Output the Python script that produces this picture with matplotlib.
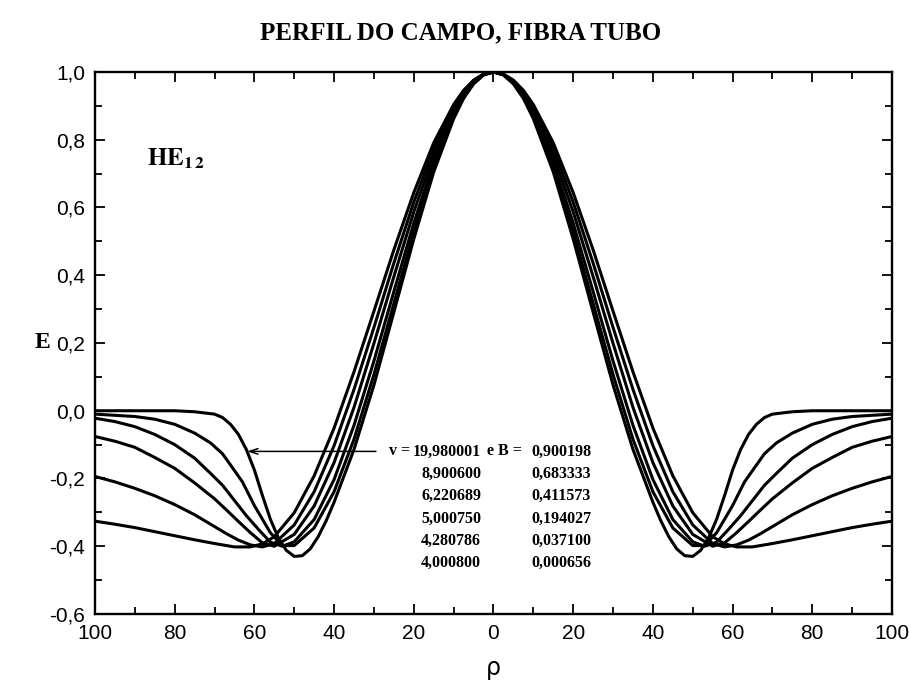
import matplotlib
matplotlib.use("Agg")
import matplotlib.pyplot as plt
import numpy as np

# half profiles (rho >= 0), mirrored for rho < 0
rho_1 = [0, 2.5, 5, 7.5, 10, 15, 20, 25, 30, 35, 40, 42, 44, 46, 48, 50, 52, 54, 56, 58, 60, 62, 64, 66, 68, 70, 75, 80, 90, 100]
E_1 = [1.0, 0.991, 0.965, 0.922, 0.862, 0.705, 0.507, 0.291, 0.076, -0.114, -0.27, -0.325, -0.372, -0.408, -0.428, -0.43, -0.412,
       -0.375, -0.32, -0.25, -0.175, -0.115, -0.07, -0.04, -0.02, -0.01, -0.003, 0.0, 0.0, 0.0]

rho_2 = [0, 2.5, 5, 7.5, 10, 15, 20, 25, 30, 35, 40, 45, 50, 53, 56, 58, 60, 63, 66, 68, 71, 75, 80, 85, 90, 100]
E_2 = [1.0, 0.992, 0.966, 0.925, 0.869, 0.718, 0.528, 0.317, 0.107, -0.084, -0.239, -0.346, -0.398, -0.398, -0.36, -0.32,
       -0.28, -0.21, -0.16, -0.127, -0.095, -0.066, -0.04, -0.025, -0.017, -0.010]

rho_3 = [0, 2.5, 5, 7.5, 10, 15, 20, 25, 30, 35, 40, 45, 50, 53, 56, 59, 62, 65, 68, 71, 75, 80, 85, 90, 95, 100]
E_3 = [1.0, 0.992, 0.969, 0.930, 0.877, 0.735, 0.554, 0.352, 0.147, -0.043, -0.203, -0.321, -0.387, -0.400, -0.388, -0.350,
       -0.310, -0.265, -0.220, -0.185, -0.140, -0.100, -0.070, -0.047, -0.032, -0.022]

rho_4 = [0, 2.5, 5, 7.5, 10, 15, 20, 25, 30, 35, 40, 45, 50, 55, 58, 61, 64, 67, 70, 75, 80, 85, 90, 95, 100]
E_4 = [1.0, 0.993, 0.971, 0.936, 0.887, 0.755, 0.587, 0.396, 0.199, 0.010, -0.153, -0.281, -0.365, -0.400, -0.390, -0.360,
       -0.327, -0.293, -0.260, -0.213, -0.170, -0.138, -0.108, -0.090, -0.076]

rho_5 = [0, 2.5, 5, 7.5, 10, 15, 20, 25, 30, 35, 40, 45, 50, 55, 58, 61, 64, 67, 70, 75, 80, 85, 90, 95, 100]
E_5 = [1.0, 0.993, 0.974, 0.941, 0.896, 0.774, 0.616, 0.436, 0.246, 0.063, -0.103, -0.239, -0.337, -0.392, -0.402, -0.396,
       -0.382, -0.363, -0.342, -0.307, -0.277, -0.251, -0.229, -0.210, -0.194]

rho_6 = [0, 2.5, 5, 7.5, 10, 15, 20, 25, 30, 35, 40, 45, 50, 55, 58, 61, 65, 70, 75, 80, 85, 90, 95, 100]
E_6 = [1.0, 0.994, 0.976, 0.946, 0.904, 0.791, 0.644, 0.475, 0.294, 0.115, -0.051, -0.192, -0.301, -0.372, -0.393, -0.402,
       -0.402, -0.392, -0.381, -0.369, -0.357, -0.345, -0.335, -0.326]

v_labels = ["19,980001", "8,900600", "6,220689", "5,000750", "4,280786", "4,000800"]
B_labels = ["0,900198", "0,683333", "0,411573", "0,194027", "0,037100", "0,000656"]

x_ticks = [-100, -80, -60, -40, -20, 0, 20, 40, 60, 80, 100]
y_ticks = [-0.6, -0.4, -0.2, 0.0, 0.2, 0.4, 0.6, 0.8, 1.0]

curves = [(rho_1, E_1), (rho_2, E_2), (rho_3, E_3), (rho_4, E_4), (rho_5, E_5), (rho_6, E_6)]

plt.rcParams["mathtext.fontset"] = "stix"

fig = plt.figure(figsize=(9.1, 6.97), dpi=100)
ax = fig.add_axes([0.1044, 0.1191, 0.8758, 0.7776])

for rho, E in curves:
    r = np.asarray(rho)
    e = np.asarray(E)
    x = np.concatenate([-r[::-1], r[1:]])
    y = np.concatenate([e[::-1], e[1:]])
    ax.plot(x, y, color="black", lw=2.2, solid_joinstyle="round")

ax.set_xlim(-100, 100)
ax.set_ylim(-0.6, 1.0)
ax.set_xticks(x_ticks)
ax.set_xticklabels([str(abs(t)) for t in x_ticks])
ax.set_xticks(np.arange(-90, 100, 20), minor=True)
ax.set_yticks(y_ticks)
ax.set_yticklabels([f"{t:.1f}".replace(".", ",") for t in y_ticks])
ax.set_yticks(np.arange(-0.5, 1.0, 0.2), minor=True)
ax.tick_params(which="both", direction="in", top=True, right=True, width=1.3)
ax.tick_params(which="major", length=7, labelsize=15, pad=7)
ax.tick_params(which="minor", length=5)
for lab in ax.get_xticklabels() + ax.get_yticklabels():
    lab.set_family("Liberation Sans")
for s in ax.spines.values():
    s.set_linewidth(1.7)

fig.text(461 / 910, 1 - 33 / 697, "PERFIL DO CAMPO, FIBRA TUBO", ha="center", va="center",
         family="Liberation Serif", weight="bold", size=18)
fig.text(42 / 910, 1 - 342 / 697, "E", ha="center", va="center",
         family="Liberation Serif", weight="bold", size=17)
fig.text(493.5 / 910, 1 - 668 / 697, "ρ", ha="center", va="center",
         family="DejaVu Sans", size=17)

ax.text(-87, 0.745, r"$\mathbf{HE}_{\mathbf{1\,2}}$", ha="left", va="center", size=18)

# arrow to the v = 19.98 curve
ax.annotate("", xy=(-61.8, -0.12), xytext=(-29.5, -0.12),
            arrowprops=dict(arrowstyle="->,head_length=0.6,head_width=0.2", lw=1.1,
                            color="black", shrinkA=0, shrinkB=0))

row_y = -0.12
for i, (vl, bl) in enumerate(zip(v_labels, B_labels)):
    y = row_y - i * 0.066
    ax.text(-3.1, y, vl, ha="right", va="center", family="Liberation Serif", weight="bold", size=11.5)
    ax.text(24.5, y, bl, ha="right", va="center", family="Liberation Serif", weight="bold", size=11.5)
ax.text(-21.0, row_y, "v =", ha="right", va="center", family="Liberation Serif", weight="bold", size=11.5)
ax.text(-1.6, row_y, "e B =", ha="left", va="center", family="Liberation Serif", weight="bold", size=11.5)

fig.savefig("out.png", dpi=100)
